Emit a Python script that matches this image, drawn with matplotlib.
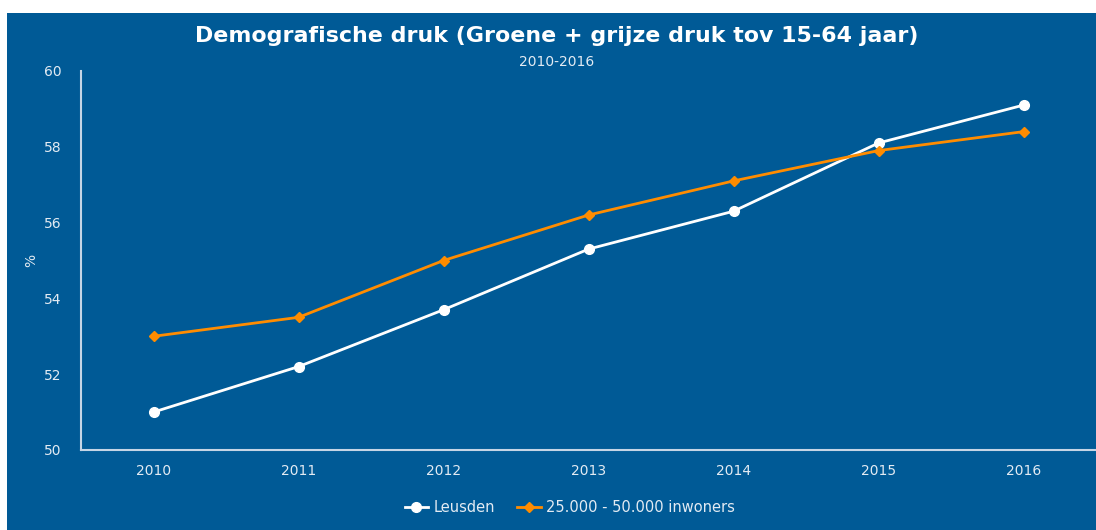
import numpy as np
import matplotlib
matplotlib.use("Agg")
from matplotlib import pyplot as plt
from matplotlib.patches import Rectangle

years = ["2010", "2011", "2012", "2013", "2014", "2015", "2016"]
leusden = [51.0, 52.2, 53.7, 55.3, 56.3, 58.1, 59.1]
klasse = [53.0, 53.5, 55.0, 56.2, 57.1, 57.9, 58.4]

BG = "#005a96"
AXC = "#c5d5e6"
TXT = "#e3ebf3"
ORANGE = "#ff8c00"


def main():
    fig = plt.figure(figsize=(10.96, 5.30), dpi=100)
    fig.patch.set_facecolor("white")
    # blue panel with a thin white margin at top and left
    panel = Rectangle((7 / 1096, 0), 1 - 7 / 1096, 1 - 13 / 530,
                      transform=fig.transFigure, facecolor=BG, edgecolor="none")
    panel.set_zorder(-10)
    fig.add_artist(panel)

    ax = fig.add_axes([81 / 1096, 80 / 530, 1 - 81 / 1096, (450 - 71) / 530])
    ax.set_facecolor("none")
    x = np.arange(len(years))
    ax.plot(x, leusden, color="white", lw=2, marker="o", ms=7, label="Leusden", zorder=3)
    ax.plot(x, klasse, color=ORANGE, lw=2, marker="D", ms=5,
            label="25.000 - 50.000 inwoners", zorder=3)

    ax.set_xlim(-0.5, 6.5)
    ax.set_ylim(50, 60)
    ax.set_xticks(x, years)
    ax.set_yticks([50, 52, 54, 56, 58, 60])
    ax.tick_params(colors=TXT, labelsize=10, length=0)
    ax.tick_params(axis="x", pad=10)
    ax.tick_params(axis="y", pad=14)
    for s in ["top", "right"]:
        ax.spines[s].set_visible(False)
    for s in ["left", "bottom"]:
        ax.spines[s].set_color(AXC)
        ax.spines[s].set_linewidth(1.5)
    ax.set_ylabel("%", color=TXT, fontsize=10, labelpad=4)

    fig.text(0.508, 1 - 36 / 530, "Demografische druk (Groene + grijze druk tov 15-64 jaar)",
             ha="center", va="center", color="white", fontsize=15.9, fontweight="bold")
    fig.text(0.508, 1 - 62 / 530, "2010-2016", ha="center", va="center",
             color=TXT, fontsize=10)

    leg = fig.legend(loc="center", bbox_to_anchor=(0.52, 1 - 508 / 530), ncol=2,
                     frameon=False, fontsize=10.5, handlelength=1.6, columnspacing=1.5,
                     handletextpad=0.4)
    for t in leg.get_texts():
        t.set_color(TXT)

    fig.savefig("out.png", dpi=100, facecolor=fig.get_facecolor())


if __name__ == "__main__":
    main()
